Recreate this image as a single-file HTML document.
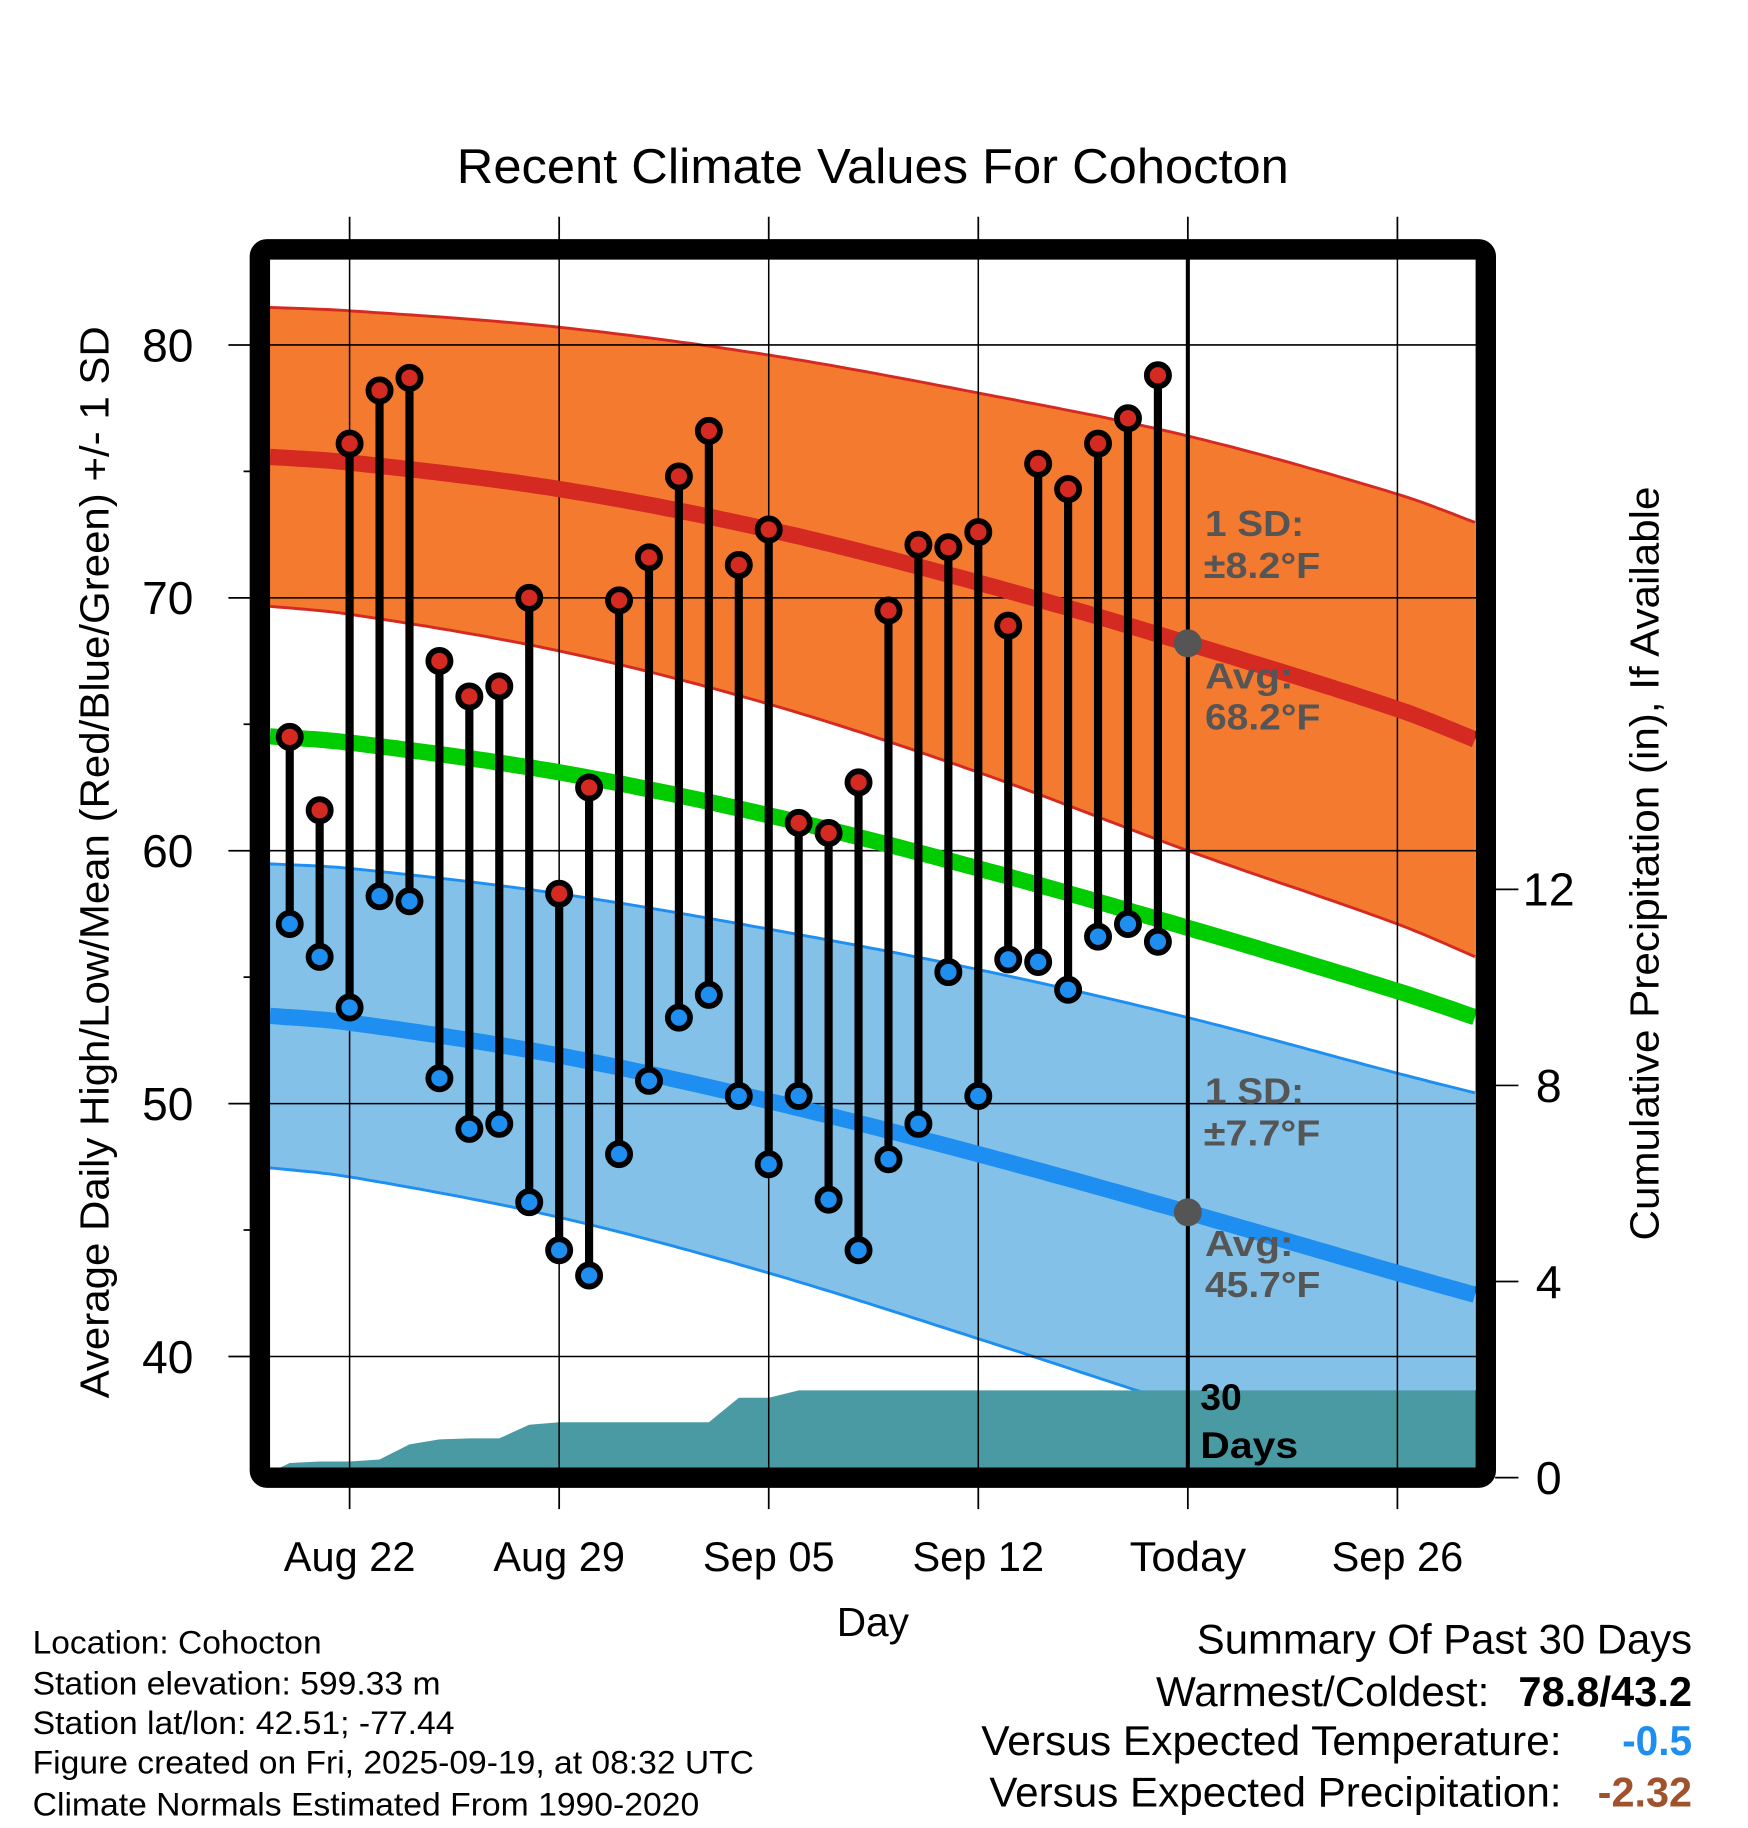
<!DOCTYPE html>
<html><head><meta charset="utf-8"><style>
html,body{margin:0;padding:0;background:#fff}
svg{display:block}
text{font-family:"Liberation Sans",Arial,sans-serif}
</style></head><body>
<svg id="chart" xmlns="http://www.w3.org/2000/svg" width="1748" height="1828" viewBox="0 0 1500 1568.65">
<rect x="0" y="0" width="1500" height="1568.65" fill="#fff"/>
<g id="plot"></g>
</svg>
<script>
// ---- data ----
const dayLabels = ["Aug 22","Aug 29","Sep 05","Sep 12","Today","Sep 26"];
const dayTickOffsets = [0,7,14,21,28,35];
// normals nodes (day offset from Aug 22)
const normDays = [-3,0,7,14,21,28,35,38];
const avgHigh = [75.6,75.35,74.3,72.7,70.6,68.2,65.6,64.2];
const sdHigh  = [5.9,6.0,6.4,6.9,7.5,8.2,8.5,8.6];
const avgLow  = [53.5,53.2,51.9,50.1,48.0,45.7,43.3,42.3];
const sdLow   = [6.0,6.1,6.4,6.8,7.3,7.7,7.9,8.0];
// observed data: Aug 20 .. Sep 18
const obsStart = -2;
const highs = [64.5,61.6,76.1,78.2,78.7,67.5,66.1,66.5,70.0,58.3,62.5,69.9,71.6,74.8,76.6,71.3,72.7,61.1,60.7,62.7,69.5,72.1,72.0,72.6,68.9,75.3,74.3,76.1,77.1,78.8];
const lows  = [57.1,55.8,53.8,58.2,58.0,51.0,49.0,49.2,46.1,44.2,43.2,48.0,50.9,53.4,54.3,50.3,47.6,50.3,46.2,44.2,47.8,49.2,55.2,50.3,55.7,55.6,54.5,56.6,57.1,56.4];
// cumulative precipitation (in), from Aug 19
const precipStart = -3;
const precip = [0.0,0.3,0.33,0.33,0.37,0.68,0.78,0.8,0.8,1.08,1.13,1.13,1.13,1.13,1.13,1.13,1.63,1.63,1.78,1.78,1.78,1.78,1.78,1.78,1.78,1.78,1.78,1.78,1.78,1.78,1.78];
const tempTicks = [40,50,60,70,80];
const precipTicks = [0,4,8,12];
const todayHigh = 68.2, todayLow = 45.7;

// ---- axes ----
const L=231.7,R=1267,T=222.5,B=1259.5;
const xS = d => 300 + d*25.69;
const yS = t => 296 + (80-t)*21.7;
const yP = p => 1268 - p*42.07;
const NS="http://www.w3.org/2000/svg";
const g=document.getElementById('plot');
function el(tag,attrs,parent){const e=document.createElementNS(NS,tag);for(const k in attrs)e.setAttribute(k,attrs[k]);(parent||g).appendChild(e);return e;}
// monotone-ish smooth interpolation (Catmull-Rom)
function interp(arr,d){
 const n=normDays.length;let i=0;while(i<n-2&&d>normDays[i+1])i++;
 const t=(d-normDays[i])/(normDays[i+1]-normDays[i]);
 const p0=arr[Math.max(0,i-1)],p1=arr[i],p2=arr[i+1],p3=arr[Math.min(n-1,i+2)];
 const h=normDays[i+1]-normDays[i];
 const m1=(p2-p0)/((normDays[i+1]-normDays[Math.max(0,i-1)])||1)*h;
 const m2=(p3-p1)/((normDays[Math.min(n-1,i+2)]-normDays[i])||1)*h;
 const t2=t*t,t3=t2*t;
 return (2*t3-3*t2+1)*p1+(t3-2*t2+t)*m1+(-2*t3+3*t2)*p2+(t3-t2)*m2;
}
const dStart=(L-300)/25.69, dEnd=(R-300)/25.69;
const samples=[];for(let d=dStart;d<=dEnd+0.001;d+=0.25)samples.push(d);
function line(fn){return samples.map(d=>xS(d).toFixed(1)+','+yS(fn(d)).toFixed(1)).join(' ');}
function band(fu,fl){return samples.map(d=>xS(d).toFixed(1)+','+yS(fu(d)).toFixed(1)).join(' ')+' '+samples.slice().reverse().map(d=>xS(d).toFixed(1)+','+yS(fl(d)).toFixed(1)).join(' ');}

const clip=el('clipPath',{id:'cp'});el('rect',{x:L,y:T,width:R-L,height:B-T},clip);
const inner=el('g',{'clip-path':'url(#cp)'});



const hb=el('polygon',{points:band(d=>interp(avgHigh,d)+interp(sdHigh,d),d=>interp(avgHigh,d)-interp(sdHigh,d)),fill:'#f47a2f'},inner);


const lb=el('polygon',{points:band(d=>interp(avgLow,d)+interp(sdLow,d),d=>interp(avgLow,d)-interp(sdLow,d)),fill:'#83c1e8'},inner);


[[d=>interp(avgHigh,d)+interp(sdHigh,d),'#d42a22',2.5,'high-upper-sd-line'],[d=>interp(avgHigh,d)-interp(sdHigh,d),'#d42a22',2.5,'high-lower-sd-line'],
 [d=>interp(avgLow,d)+interp(sdLow,d),'#1e8ff0',2.5,'low-upper-sd-line'],[d=>interp(avgLow,d)-interp(sdLow,d),'#1e8ff0',2.5,'low-lower-sd-line']].forEach(a=>{
 const p=el('polyline',{points:line(a[0]),fill:'none',stroke:a[1],'stroke-width':a[2]},inner);
 
 
});
// precip area
let pp=[];precip.forEach((v,i)=>pp.push(xS(precipStart+i).toFixed(1)+','+yP(v).toFixed(1)));
const last=precip[precip.length-1];
const pa=el('polygon',{points:xS(precipStart).toFixed(1)+','+yP(0)+' '+pp.join(' ')+' '+R+','+yP(last).toFixed(1)+' '+R+','+yP(0),fill:'#4a9aa3'},inner);


// grid
tempTicks.forEach(t=>{const l=el('line',{x1:L,x2:R,y1:yS(t),y2:yS(t),stroke:'#000','stroke-width':1.3},inner);
 
 });
dayTickOffsets.forEach(d=>{const l=el('line',{x1:xS(d),x2:xS(d),y1:T,y2:B,stroke:'#000','stroke-width':1.3},inner);
 
 });
// mean lines
[[d=>interp(avgHigh,d),'#d42a22','avg-high-line'],[d=>(interp(avgHigh,d)+interp(avgLow,d))/2,'#00cc00','avg-mean-line'],[d=>interp(avgLow,d),'#1e8ff0','avg-low-line']].forEach(a=>{
 const p=el('polyline',{points:line(a[0]),fill:'none',stroke:a[1],'stroke-width':14},inner);
 
 
});
// today line
const tl=el('line',{x1:xS(28),x2:xS(28),y1:T,y2:B,stroke:'#000','stroke-width':3.5},inner);


// stems + markers
highs.forEach((h,i)=>{const x=xS(obsStart+i);
 const s=el('line',{x1:x,x2:x,y1:yS(h),y2:yS(lows[i]),stroke:'#000','stroke-width':7},inner);
 
 
});
highs.forEach((h,i)=>{const x=xS(obsStart+i);
 const a=el('circle',{cx:x,cy:yS(h),r:9.5,fill:'#d42a22',stroke:'#000','stroke-width':5},inner);
 
 
 const b=el('circle',{cx:x,cy:yS(lows[i]),r:9.5,fill:'#1e8ff0',stroke:'#000','stroke-width':5},inner);
 
 
});
[todayHigh,todayLow].forEach(v=>{const c=el('circle',{cx:xS(28),cy:yS(v),r:12,fill:'#555'},inner);
 
 });
// annotations
function txt(s,x,y,attrs,name,len){const a=Object.assign({x:x,y:y},attrs);if(len){a.textLength=len;a.lengthAdjust='spacingAndGlyphs';}const t=el('text',a);t.textContent=s;return t;}
const ann={fill:'#555','font-size':31,'font-weight':'bold'};
txt('1 SD:',1034,460,ann,'high-sd-label',85);txt('±8.2°F',1033,496,ann,'high-sd-value',100);
txt('Avg:',1034,591,ann,'high-avg-label',76);txt('68.2°F',1034,626,ann,'high-avg-value',99);
txt('1 SD:',1034,947,ann,'low-sd-label',85);txt('±7.7°F',1033,983,ann,'low-sd-value',100);
txt('Avg:',1034,1078,ann,'low-avg-label',76);txt('45.7°F',1034,1113,ann,'low-avg-value',99);
const ann2={fill:'#000','font-size':32,'font-weight':'bold'};
txt('30',1030,1210,ann2,'days-count-label');txt('Days',1030,1251,ann2,'days-label',84);
// frame
const fr=el('rect',{x:223,y:214,width:1052,height:1054,rx:6,fill:'none',stroke:'#000','stroke-width':17.5});


// ticks
tempTicks.forEach(t=>{const l=el('line',{x1:196,x2:215,y1:yS(t),y2:yS(t),stroke:'#000','stroke-width':1.5});
 
 
 txt(String(t),166,yS(t)+14,{'font-size':40,'text-anchor':'end'},'y-tick-label',44);
 const m=t+5; if(m<84){const n=el('line',{x1:209,x2:215,y1:yS(m),y2:yS(m),stroke:'#000','stroke-width':1.5});
 
 }
});
const xw=[113,113,113,113,100,113];
dayTickOffsets.forEach((d,i)=>{const x=xS(d);
 const a=el('line',{x1:x,x2:x,y1:186,y2:206,stroke:'#000','stroke-width':1.5});
 
 
 const b=el('line',{x1:x,x2:x,y1:1276,y2:1295,stroke:'#000','stroke-width':1.5});
 
 
 txt(dayLabels[i],x,1348,{'font-size':36,'text-anchor':'middle'},'x-tick-label',xw[i]);
});
precipTicks.forEach(p=>{const l=el('line',{x1:1283,x2:1303,y1:yP(p),y2:yP(p),stroke:'#000','stroke-width':1.5});
 
 
 txt(String(p),1329,yP(p)+14,{'font-size':40,'text-anchor':'middle'},'precip-tick-label');
});
// titles
txt('Recent Climate Values For Cohocton',749,157,{'font-size':42,'text-anchor':'middle'},'chart-title',714);
txt('Day',749,1404,{'font-size':35,'text-anchor':'middle'},'x-axis-title',62);
txt('Average Daily High/Low/Mean (Red/Blue/Green) +/- 1 SD',0,0,{'font-size':35,'text-anchor':'middle',transform:'translate(93,740) rotate(-90)'},'y-axis-title',920);
txt('Cumulative Precipitation (in), If Available',0,0,{'font-size':35,'text-anchor':'middle',transform:'translate(1423,741) rotate(-90)'},'precip-axis-title',647);
// footer left
const fl=['Location: Cohocton','Station elevation: 599.33 m','Station lat/lon: 42.51; -77.44','Figure created on Fri, 2025-09-19, at 08:32 UTC','Climate Normals Estimated From 1990-2020'];
const flw=[248,350,362,619,572];
const fy=[1419,1454,1488,1522,1558];
fl.forEach((s,i)=>txt(s,28,fy[i],{'font-size':28},'station-info-line',flw[i]));
// footer right
txt('Summary Of Past 30 Days',1027,1419,{'font-size':36},'summary-title',425);
txt('Warmest/Coldest:',992,1464,{'font-size':36},'warmest-coldest-label',286);
txt('78.8/43.2',1303,1464,{'font-size':36,'font-weight':'bold'},'warmest-coldest-value',149);
txt('Versus Expected Temperature:',842,1506,{'font-size':36},'temp-anomaly-label',498);
txt('-0.5',1392,1506,{'font-size':36,'font-weight':'bold',fill:'#1e8ff0'},'temp-anomaly-value',60);
txt('Versus Expected Precipitation:',849,1550,{'font-size':36},'precip-anomaly-label',491);
txt('-2.32',1371,1550,{'font-size':36,'font-weight':'bold',fill:'#a0522d'},'precip-anomaly-value',81);
</script>
</body></html>
